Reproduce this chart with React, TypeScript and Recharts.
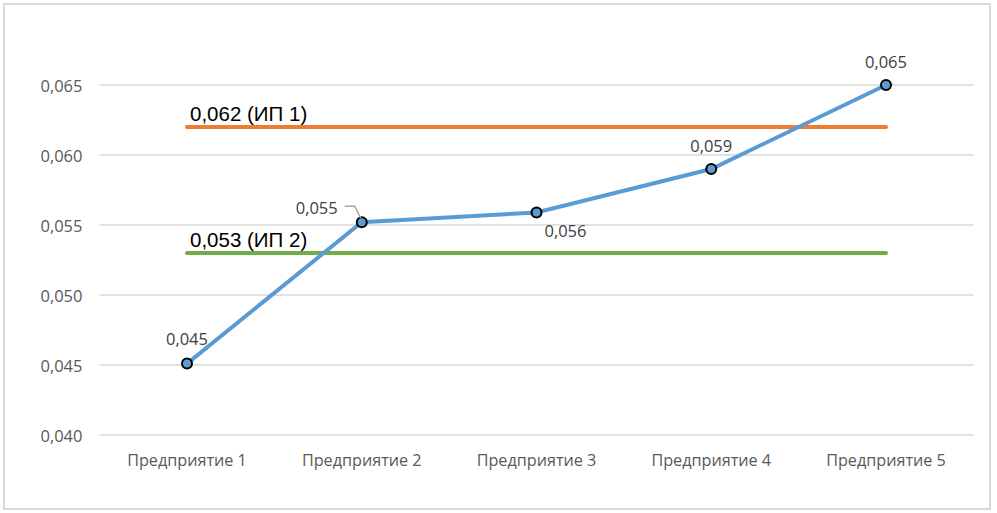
import { LineChart, Line, XAxis, YAxis, ReferenceLine, LabelList } from 'recharts'

const categories = ['Предприятие 1', 'Предприятие 2', 'Предприятие 3', 'Предприятие 4', 'Предприятие 5']
const values = [0.0451, 0.0552, 0.0559, 0.059, 0.065]
const ip1Value = 0.062
const ip2Value = 0.053
const ip1Label = '0,062 (ИП 1)'
const ip2Label = '0,053 (ИП 2)'
const yTicks = [0.04, 0.045, 0.05, 0.055, 0.06, 0.065]

// where each data label sits relative to its point (Excel manual placement)
const labelOffsets = [
  { dx: 0, dy: -25, anchor: 'middle' },
  { dx: -24, dy: -15, anchor: 'end' },
  { dx: 29, dy: 18, anchor: 'middle' },
  { dx: 0, dy: -24, anchor: 'middle' },
  { dx: 0, dy: -24, anchor: 'middle' },
]

const data = categories.map((name, i) => ({
  name,
  value: values[i],
  ip1: ip1Value,
  ip2: ip2Value,
}))

const fmt = (v: number) => v.toFixed(3).replace('.', ',')

const tickFont = '"Open Sans", "DejaVu Sans", sans-serif'

function YTick({ x, y, payload }: any) {
  return (
    <text x={x - 9} y={y} textAnchor="end" dominantBaseline="central" fill="#595959" fontSize={16.5} fontFamily={tickFont}>
      {fmt(payload.value)}
    </text>
  )
}

function XTick({ x, y, payload }: any) {
  return (
    <text x={x} y={y + 17} textAnchor="middle" dominantBaseline="central" fill="#595959" fontSize={16.2} fontFamily={tickFont}>
      {payload.value}
    </text>
  )
}

function ValueLabel(props: any) {
  const { x, y, value, index } = props
  const o = labelOffsets[index]
  return (
    <g>
      {index === 1 && (
        <path d={`M${x - 17},${y - 16} L${x - 7},${y - 16} L${x - 1},${y - 4}`} stroke="#a6a6a6" strokeWidth={1.5} fill="none" />
      )}
      <text x={x + o.dx} y={y + o.dy} textAnchor={o.anchor} dominantBaseline="central" fill="#404040" fontSize={16.5} fontFamily={tickFont}>
        {fmt(value)}
      </text>
    </g>
  )
}

function lineLabel(text: string) {
  return (props: any) => {
    const { x, y, index } = props
    if (index !== 0) return null
    return (
      <text x={x + 3} y={y - 14} dominantBaseline="central" fill="#000" fontSize={20.5} fontFamily='"Liberation Sans", Arial, sans-serif'>
        {text}
      </text>
    )
  }
}

export default function App() {
  return (
    <div style={{ position: 'absolute', left: 0, top: 0, width: 997, height: 513, background: '#fff' }}>
      <div
        style={{
          position: 'absolute',
          left: 3,
          top: 3,
          width: 988,
          height: 507,
          border: '2px solid #d9d9d9',
          boxSizing: 'border-box',
        }}
      />
      <div style={{ position: 'absolute', left: 0, top: 0 }}>
        <LineChart width={997} height={513} data={data} margin={{ top: 15, right: 23.5, bottom: 48, left: 0 }}>
          <XAxis
            dataKey="name"
            height={30}
            padding={{ left: 87.5, right: 87.5 }}
            axisLine={false}
            tickLine={false}
            tick={<XTick />}
            interval={0}
          />
          <YAxis
            width={99.5}
            domain={[0.04, 0.07]}
            ticks={yTicks}
            axisLine={false}
            tickLine={false}
            tick={<YTick />}
          />
          {yTicks.map((t) => (
            <ReferenceLine key={t} y={t} stroke="#d9d9d9" strokeWidth={1.5} />
          ))}
          <Line
            dataKey="ip1"
            stroke="#ed7d31"
            strokeWidth={4}
            strokeLinecap="round"
            dot={false}
            isAnimationActive={false}
          >
            <LabelList dataKey="ip1" content={lineLabel(ip1Label)} />
          </Line>
          <Line
            dataKey="ip2"
            stroke="#70ad47"
            strokeWidth={4}
            strokeLinecap="round"
            dot={false}
            isAnimationActive={false}
          >
            <LabelList dataKey="ip2" content={lineLabel(ip2Label)} />
          </Line>
          <Line
            dataKey="value"
            stroke="#5b9bd5"
            strokeWidth={4}
            dot={{ r: 5, fill: '#5b9bd5', stroke: '#000', strokeWidth: 2 }}
            isAnimationActive={false}
          >
            <LabelList dataKey="value" content={ValueLabel} />
          </Line>
        </LineChart>
      </div>
    </div>
  )
}
